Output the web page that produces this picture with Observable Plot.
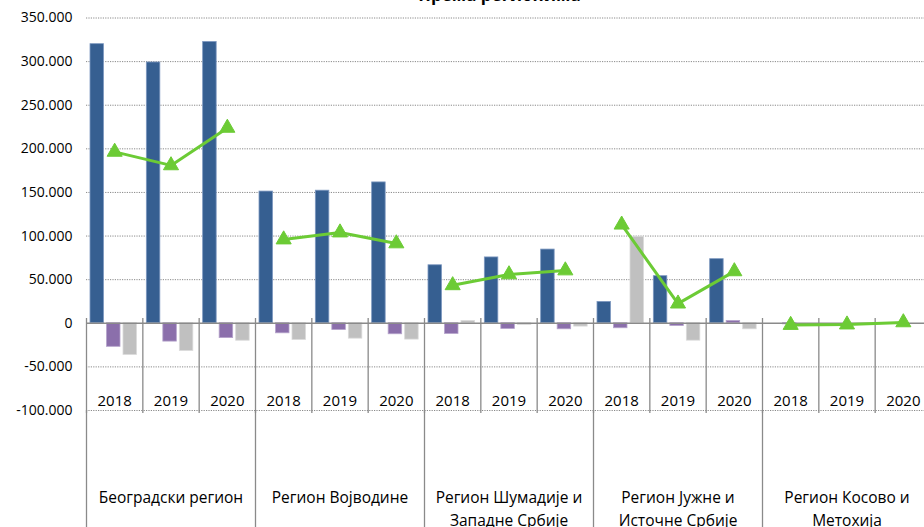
<!DOCTYPE html>
<html><head><meta charset="utf-8">
<script src="https://cdn.jsdelivr.net/npm/d3@7"></script>
<script src="https://cdn.jsdelivr.net/npm/@observablehq/plot@0.6"></script>
<style>body{margin:0;background:#fff;overflow:hidden;} #chart svg{display:block;}</style>
</head><body><div id="chart"></div>
<script>
const title = "Према регионима";
const regions = ["Београдски регион", "Регион Војводине", "Регион Шумадије и\nЗападне Србије", "Регион Јужне и\nИсточне Србије", "Регион Косово и\nМетохија"];
const years = ["2018", "2019", "2020"];
const seriesBlue   = [320000, 299000, 322500, 151000, 152000, 161500, 66500, 75500, 84500, 24500, 54000, 73500, 0, 0, 0];
const seriesPurple = [-27000, -21000, -17000, -11500, -7700, -12600, -12200, -6500, -6900, -5700, -3100, 2600, -1200, 0, 0];
const seriesGray   = [-36300, -31700, -20000, -19100, -17600, -18700, 2600, -1900, -3800, 99200, -19900, -6900, 0, 0, 0];
const seriesLine   = [196500, 181000, 224000, 96000, 104000, 91500, 43500, 56000, 60500, 113000, 22500, 59500, -2000, -1500, 1000];
const yTicks = [-100000, -50000, 0, 50000, 100000, 150000, 200000, 250000, 300000, 350000];

const slots = regions.flatMap((r, i) => years.map(y => `${i}|${y}`));
const rows = slots.map((s, k) => ({slot: s, year: s.split("|")[1], blue: seriesBlue[k], purple: seriesPurple[k], gray: seriesGray[k], line: seriesLine[k], region: Math.floor(k / 3)}));
const regionRows = regions.map((r, i) => ({slot: `${i}|2019`, label: r}));
const regionStarts = regions.map((r, i) => `${i}|2018`);

const W = 924, H = 527, ML = 86, MR = -7;
const bw = (W - ML - MR) / slots.length;
const barW = 13.5, gap = 3, start = 4;
const ins = (j) => ({insetLeft: start + j * (barW + gap), insetRight: bw - (start + j * (barW + gap) + barW)});

const locale = d3.formatLocale({decimal: ",", thousands: ".", grouping: [3], currency: ["", ""], minus: "-"});
const fmt = locale.format(",");
const font = "'Open Sans', sans-serif";

const chart = Plot.plot({
  width: W, height: H,
  marginLeft: ML, marginRight: MR, marginTop: 17.5, marginBottom: 117,
  style: {fontFamily: font, background: "#fff", overflow: "visible"},
  x: {type: "band", domain: slots, padding: 0, round: false, axis: null},
  y: {domain: [-100000, 350000], axis: null},
  marks: [
    Plot.ruleY(yTicks.filter(d => d !== 0), {stroke: "#8a8a8a", strokeDasharray: "1.2,1.2", strokeWidth: 1}),
    Plot.ruleX(slots, {x: d => d, y1: 5500, y2: -103500, stroke: "#8a8a8a", strokeWidth: 1.3, dx: -bw / 2}),
    Plot.ruleX(regionStarts, {x: d => d, y1: -100000, y2: -240000, stroke: "#8a8a8a", strokeWidth: 1.3, dx: -bw / 2}),
    Plot.barY(rows, {x: "slot", y: "blue", fill: "#365F91", stroke: "#7D98C0", strokeWidth: 0.8, ...ins(0)}),
    Plot.barY(rows, {x: "slot", y: "purple", fill: "#8B6FAB", stroke: "#B5A3CB", strokeWidth: 0.8, ...ins(1)}),
    Plot.barY(rows, {x: "slot", y: "gray", fill: "#C0C0C0", stroke: "#DADADA", strokeWidth: 0.8, ...ins(2)}),
    Plot.ruleY([0], {stroke: "#8a8a8a", strokeWidth: 1.5}),
    Plot.line(rows, {x: "slot", y: "line", z: "region", stroke: "#6CCB35", strokeWidth: 3}),
    Plot.dot(rows, {x: "slot", y: "line", symbol: "triangle", r: 5.6, fill: "#6CCB35", stroke: "#6CCB35", strokeWidth: 1}),
    Plot.text(yTicks, {x: () => slots[0], y: d => d, text: d => fmt(d), textAnchor: "end", dx: -bw / 2 - 14, fontSize: 14, fill: "#000"}),
    Plot.text(rows, {x: "slot", y: () => -89500, text: "year", fontSize: 15, fill: "#000"}),
    Plot.text(regionRows, {x: "slot", y: () => -186700, text: "label", lineAnchor: "top", lineHeight: 1.5, fontSize: 15.5, fill: "#000"}),
    Plot.text([title], {frameAnchor: "top", dx: -9.5, dy: -17.5, lineAnchor: "bottom", fontSize: 17, fontWeight: "bold", fill: "#000"})
  ]
});
document.getElementById("chart").appendChild(chart);
</script></body></html>
